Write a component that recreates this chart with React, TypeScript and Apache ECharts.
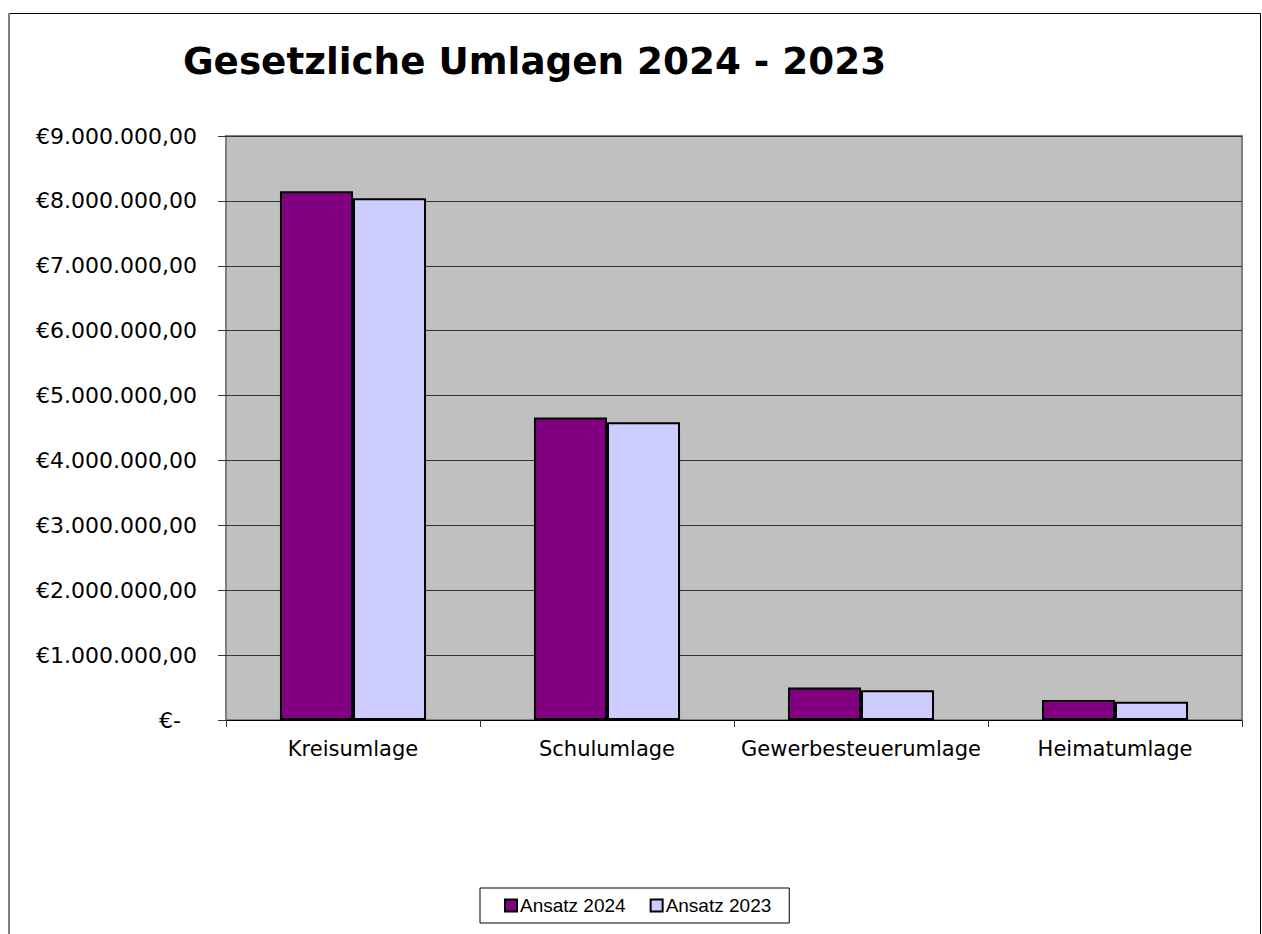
import React, { useEffect, useRef } from "react";
import * as echarts from "echarts";

const categories = ["Kreisumlage", "Schulumlage", "Gewerbesteuerumlage", "Heimatumlage"];
const ansatz2024 = [8150000, 4660000, 500000, 310000];
const ansatz2023 = [8040000, 4590000, 460000, 280000];
const seriesNames = ["Ansatz 2024", "Ansatz 2023"];
const titleText = "Gesetzliche Umlagen 2024 - 2023";

function fmtEuro(v: number): string {
  if (v === 0) return "{z|€-}";
  const s = Math.round(v).toString().replace(/\B(?=(\d{3})+(?!\d))/g, ".");
  return "€" + s + ",00";
}

export default function App() {
  const ref = useRef<HTMLDivElement>(null);
  useEffect(() => {
    if (!ref.current) return;
    const chart = echarts.init(ref.current, undefined, { renderer: "svg" });
    chart.setOption({
      animation: false,
      backgroundColor: "#ffffff",
      title: {
        text: titleText,
        left: 183,
        top: 42,
        padding: 0,
        textStyle: {
          fontFamily: "DejaVu Sans",
          fontWeight: "bold",
          fontSize: 37.3,
          color: "#000",
        },
      },
      legend: {
        data: seriesNames,
        left: 480,
        top: 888,
        padding: [8, 18, 8, 24],
        borderColor: "#000",
        borderWidth: 1,
        itemWidth: 12,
        itemHeight: 12,
        itemGap: 24,
        icon: "rect",
        textStyle: {
          fontFamily: "Liberation Sans",
          fontSize: 19,
          color: "#000",
          padding: [0, 0, 0, -2],
        },
      },
      grid: {
        left: 226,
        right: 20,
        top: 136,
        bottom: 214,
        show: true,
        backgroundColor: "#c0c0c0",
        borderColor: "#808080",
        borderWidth: 2,
        containLabel: false,
      },
      xAxis: {
        type: "category",
        data: categories,
        axisLine: { show: true, lineStyle: { color: "#000", width: 1 } },
        axisTick: { show: true, length: 7, lineStyle: { color: "#333" } },
        axisLabel: {
          interval: 0,
          fontFamily: "DejaVu Sans",
          fontSize: 21,
          color: "#000",
          margin: 18,
        },
      },
      yAxis: {
        type: "value",
        min: 0,
        max: 9000000,
        interval: 1000000,
        axisLine: { show: false },
        axisTick: { show: true, length: 8, lineStyle: { color: "#333" } },
        splitLine: { show: true, lineStyle: { color: "#333", width: 1 } },
        axisLabel: {
          fontFamily: "DejaVu Sans",
          fontSize: 22,
          color: "#000",
          margin: 29,
          formatter: fmtEuro,
          rich: {
            z: {
              fontFamily: "DejaVu Sans",
              fontSize: 22,
              color: "#000",
              padding: [0, 16, 0, 0],
            },
          },
        },
      },
      series: [
        {
          name: seriesNames[0],
          type: "bar",
          data: ansatz2024,
          barGap: "0%",
          barCategoryGap: "42.5%",
          itemStyle: { color: "#800080", borderColor: "#000", borderWidth: 2 },
        },
        {
          name: seriesNames[1],
          type: "bar",
          data: ansatz2023,
          barGap: "0%",
          barCategoryGap: "42.5%",
          itemStyle: { color: "#ccccff", borderColor: "#000", borderWidth: 2 },
        },
      ],
      graphic: [
        {
          type: "rect",
          shape: { x: 8.5, y: 13.5, width: 1252, height: 940 },
          style: { fill: "none", stroke: "#000", lineWidth: 1 },
          silent: true,
        },
        {
          type: "line",
          shape: { x1: 9, y1: 13, x2: 9, y2: 934 },
          style: { stroke: "#808080", lineWidth: 2 },
          silent: true,
        },
      ],
    });
    return () => chart.dispose();
  }, []);
  return (
    <div
      ref={ref}
      style={{ position: "fixed", left: 0, top: 0, width: 1262, height: 934 }}
    />
  );
}
